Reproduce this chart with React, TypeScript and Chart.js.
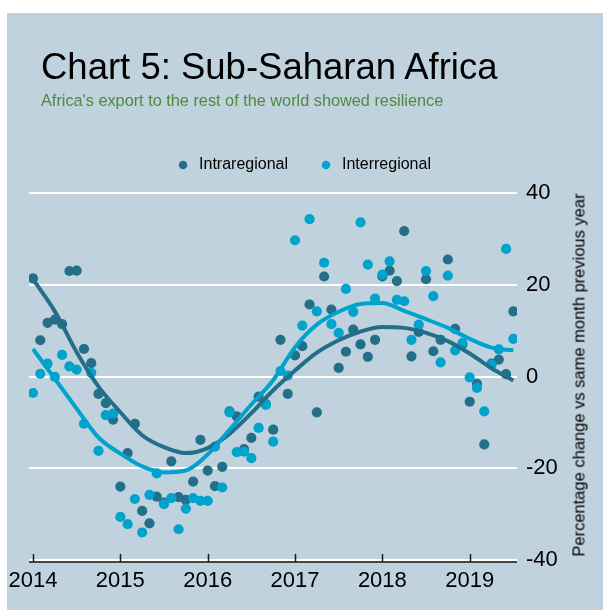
import { useEffect, useRef } from 'react';
import { Chart, registerables } from 'chart.js';

Chart.register(...registerables);

// ---- data (monthly, Jan 2014 .. Jul 2019) ----
const yearLabels = ['2014', '2015', '2016', '2017', '2018', '2019'];
const yearTickMonths = [0, 12, 24, 36, 48, 60];
const yTicks = [-40, -20, 0, 20, 40];

const intraregional = [
  21.4, 7.9, 11.7, 12.4, 11.4, 23.0, 23.1, 6.0, 2.9, -3.8, -5.8, -9.4,
  -24.0, -16.7, -10.3, -29.3, -32.0, -26.2, -27.5, -18.5, -26.3, -26.9, -22.9, -13.8,
  -20.5, -23.9, -19.7, -7.6, -8.7, -15.8, -13.4, -4.4, -6.0, -11.6, 8.0, -3.8,
  4.6, 6.6, 15.7, -7.8, 21.8, 14.6, 1.9, 5.4, 10.2, 7.0, 4.3, 8.0,
  21.8, 23.1, 20.8, 31.7, 4.4, 9.7, 21.2, 5.5, 8.0, 25.5, 10.4, 7.0,
  -5.5, -1.6, -14.8, 2.8, 3.7, 0.5, 14.2,
];

const interregional = [
  -3.6, 0.6, 2.8, -0.1, 4.7, 2.2, 1.5, -10.3, 0.8, -16.2, -8.4, -8.1,
  -30.6, -32.2, -26.7, -34.0, -25.8, -21.1, -27.8, -26.5, -33.3, -28.8, -26.5, -27.1,
  -27.1, -15.3, -24.2, -7.8, -16.5, -16.4, -17.8, -11.2, -6.2, -14.2, 1.2, 0.2,
  29.7, 11.1, 34.3, 14.2, 24.8, 11.4, 9.5, 19.1, 14.1, 33.6, 24.4, 17.0,
  22.2, 25.1, 16.7, 16.4, 8.0, 11.3, 23.0, 17.5, 3.1, 22.0, 5.7, 7.3,
  -0.2, -2.5, -7.6, 2.6, 5.9, 27.8, 8.2,
];

// smoothed trend lines, read every 3 months
const trendMonths = [0, 3, 6, 9, 12, 15, 18, 21, 24, 27, 30, 33, 36, 39, 42, 45, 48, 51, 54, 57, 60, 63, 66];
const intraTrend = [21.2, 14.2, 5.3, -2.2, -7.8, -12.8, -15.4, -16.7, -15.6, -12.5, -8.0, -3.0, 1.3, 5.2, 7.9, 9.8, 10.8, 10.6, 9.5, 7.7, 5.0, 1.8, -0.9];
const interTrend = [6.0, -0.5, -7.0, -13.3, -16.8, -19.6, -20.9, -20.5, -17.0, -11.6, -6.1, -0.8, 6.4, 11.3, 14.1, 15.8, 16.0, 14.3, 12.5, 10.6, 8.2, 6.3, 5.7];

const FONT = '"Liberation Sans", Arial, Helvetica, sans-serif';
const DARK = '#236f89';
const CYAN = '#00a3cc';
const BG = '#bfd2dd';
const W = 596;
const H = 597;

const axisDecor = {
  id: 'axisDecor',
  afterDatasetsDraw(chart: any) {
    const { ctx, chartArea, scales } = chart;
    const xs = scales.x;
    const y0 = chartArea.bottom + 2;
    ctx.save();
    ctx.strokeStyle = '#1a1a1a';
    ctx.lineWidth = 1.5;
    ctx.beginPath();
    ctx.moveTo(chartArea.left, y0);
    ctx.lineTo(chartArea.right, y0);
    yearTickMonths.forEach((m) => {
      const px = Math.round(xs.getPixelForValue(m)) + 0.5;
      ctx.moveTo(px, y0);
      ctx.lineTo(px, y0 - 8);
    });
    ctx.stroke();
    ctx.restore();
  },
};

function ChartView() {
  const ref = useRef<HTMLCanvasElement | null>(null);

  useEffect(() => {
    if (!ref.current) return;
    const pts = (vals: number[]) => vals.map((v, i) => ({ x: i, y: v }));
    const trend = (vals: number[]) => trendMonths.map((m, i) => ({ x: m, y: vals[i] }));

    const chart = new Chart(ref.current, {
      type: 'scatter',
      data: {
        datasets: [
          {
            label: 'Interregional trend',
            data: trend(interTrend),
            showLine: true,
            borderColor: CYAN,
            backgroundColor: CYAN,
            borderWidth: 4,
            pointRadius: 0,
            cubicInterpolationMode: 'monotone',
          },
          {
            label: 'Intraregional trend',
            data: trend(intraTrend),
            showLine: true,
            borderColor: DARK,
            backgroundColor: DARK,
            borderWidth: 4,
            pointRadius: 0,
            cubicInterpolationMode: 'monotone',
          },
          {
            label: 'Interregional',
            data: pts(interregional),
            backgroundColor: CYAN,
            pointBackgroundColor: CYAN,
            borderColor: CYAN,
            pointBorderWidth: 0,
            borderWidth: 0,
            pointRadius: 5.1,
            pointStyle: 'circle',
          },
          {
            label: 'Intraregional',
            data: pts(intraregional),
            backgroundColor: DARK,
            pointBackgroundColor: DARK,
            borderColor: DARK,
            pointBorderWidth: 0,
            borderWidth: 0,
            pointRadius: 5.1,
            pointStyle: 'circle',
          },
        ],
      } as any,
      options: {
        responsive: false,
        animation: false,
        layout: { padding: { left: 22, right: 26, top: 114, bottom: 0 } },
        plugins: {
          tooltip: { enabled: false },
          title: {
            display: true,
            text: '',
            position: 'top',
            weight: 100,
            padding: 0,
            font: { size: 10, lineHeight: 1 },
          } as any,
          legend: {
            display: true,
            position: 'top',
            align: 'center',
            labels: {
              usePointStyle: true,
              pointStyle: 'circle',
              boxWidth: 16,
              boxHeight: 6,
              padding: 30,
              color: '#000000',
              font: { family: FONT, size: 16 },
              filter: (item: any) => !String(item.text).includes('trend'),
              sort: (a: any, b: any) => b.datasetIndex - a.datasetIndex,
            },
          },
        },
        scales: {
          x: {
            type: 'linear',
            min: -0.55,
            max: 66.5,
            afterBuildTicks: (s: any) => {
              s.ticks = yearTickMonths.map((v) => ({ value: v }));
            },
            afterFit: (s: any) => {
              s.height = 50;
              s.paddingLeft = 0;
              s.paddingRight = 0;
            },
            ticks: {
              autoSkip: false,
              maxRotation: 0,
              padding: 8,
              color: '#000000',
              font: { family: FONT, size: 22 },
              callback: (v: any) => {
                const i = yearTickMonths.indexOf(Number(v));
                return i >= 0 ? yearLabels[i] : '';
              },
            },
            grid: { display: false, drawTicks: false },
            border: { display: false },
          },
          y: {
            type: 'linear',
            position: 'right',
            min: -40,
            max: 40,
            afterBuildTicks: (s: any) => {
              s.ticks = yTicks.map((v) => ({ value: v }));
            },
            afterFit: (s: any) => {
              s.width = 60;
              s.paddingTop = 0;
              s.paddingBottom = 0;
            },
            ticks: {
              padding: 9,
              color: '#000000',
              font: { family: FONT, size: 22 },
              callback: (v: any) => String(v),
            },
            grid: { color: '#ffffff', lineWidth: 2, drawTicks: false },
            border: { display: false },
          },
        },
      } as any,
      plugins: [axisDecor],
    });
    return () => chart.destroy();
  }, []);

  return <canvas ref={ref} width={W} height={H} style={{ display: 'block', width: W, height: H }} />;
}

export default function App() {
  return (
    <div
      style={{
        position: 'absolute',
        left: 7,
        top: 13,
        width: W,
        height: H,
        background: BG,
        overflow: 'hidden',
        fontFamily: FONT,
      }}
    >
      <ChartView />
      <div
        style={{
          position: 'absolute',
          left: 34,
          top: 35,
          fontSize: 36.5,
          lineHeight: '37px',
          color: '#000000',
          whiteSpace: 'nowrap',
        }}
      >
        Chart 5: Sub-Saharan Africa
      </div>
      <div
        style={{
          position: 'absolute',
          left: 34,
          top: 79,
          fontSize: 16.3,
          lineHeight: '17px',
          color: '#4e8b3a',
          whiteSpace: 'nowrap',
        }}
      >
        Africa's export to the rest of the world showed resilience
      </div>
      <div
        style={{
          position: 'absolute',
          left: 572,
          top: 362,
          fontSize: 16.5,
          lineHeight: '17px',
          color: '#000000',
          whiteSpace: 'nowrap',
          transform: 'translate(-50%, -50%) rotate(-90deg)',
        }}
      >
        Percentage change vs same month previous year
      </div>
    </div>
  );
}
